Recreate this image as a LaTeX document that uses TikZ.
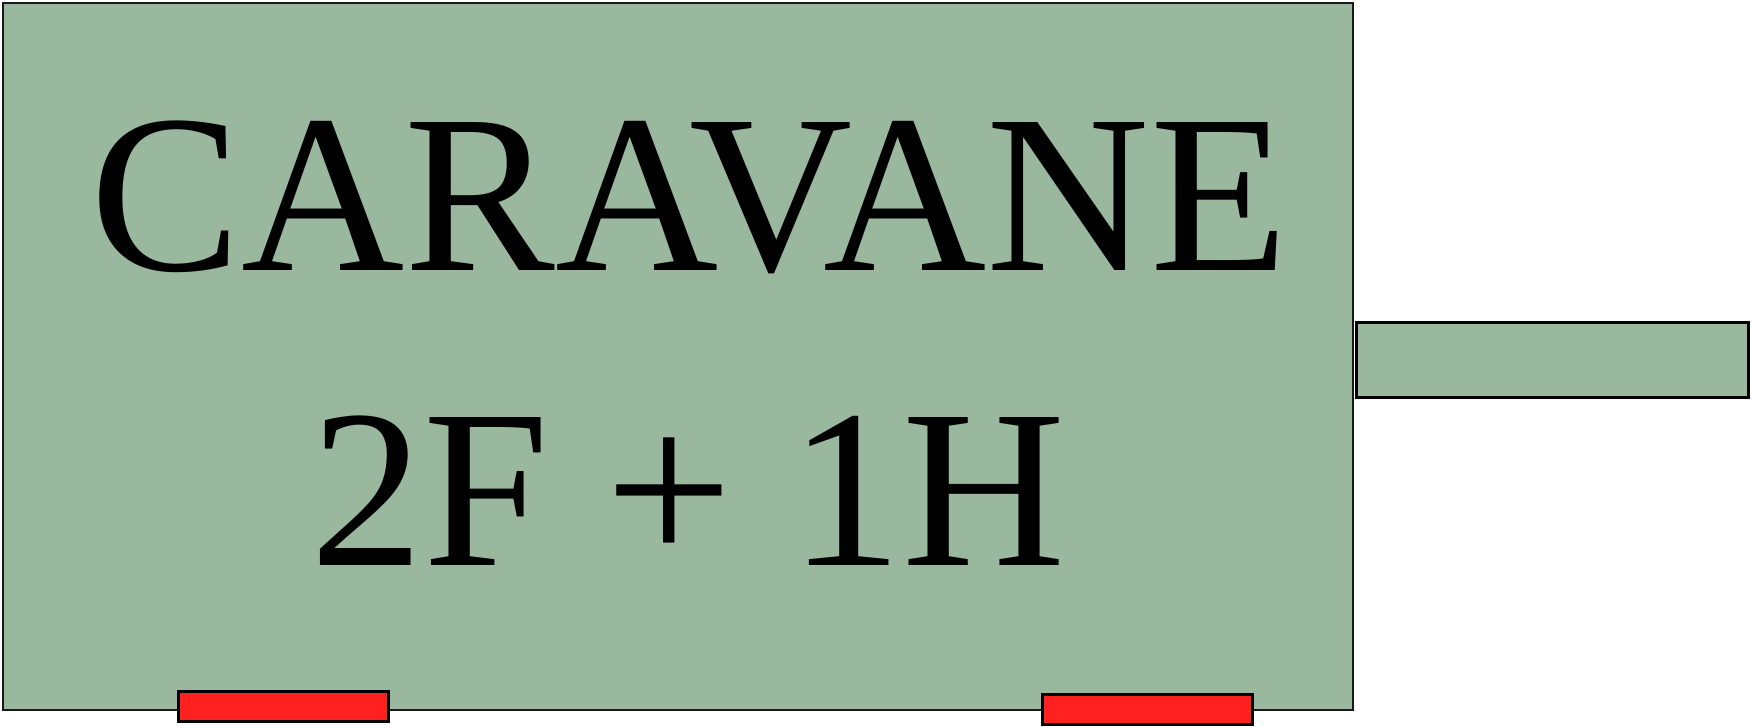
\documentclass[tikz,border=0pt]{standalone}
\usepackage{fontspec}
\setmainfont{Liberation Serif}
\definecolor{boxgreen}{RGB}{153,184,158}
\definecolor{wheelred}{RGB}{255,32,32}
\tikzset{
  bodybox/.style={fill=boxgreen, draw=black!90, line width=2.5pt},
  hitchbox/.style={fill=boxgreen, draw=black, line width=3pt},
  wheelbox/.style={fill=wheelred, draw=black, line width=3pt},
  bigtext/.style={inner sep=0pt, anchor=base, font=\fontsize{226}{226}\selectfont}
}
\begin{document}
\begin{tikzpicture}[x=1pt,y=-1pt]
\useasboundingbox (0,0) rectangle (1752,727);
\draw[bodybox] (3,3) rectangle (1353,710);
\draw[hitchbox] (1356.5,322.5) rectangle (1748.5,397.5);
\draw[wheelbox] (178.5,691.5) rectangle (388.5,721.5);
\draw[wheelbox] (1042.5,694.5) rectangle (1252.5,724.5);
\node[bigtext] (title) at (689.5,270) {CARAVANE};
\node[bigtext] (crew) at (688.5,565) {2F + 1H};
\end{tikzpicture}
\end{document}
